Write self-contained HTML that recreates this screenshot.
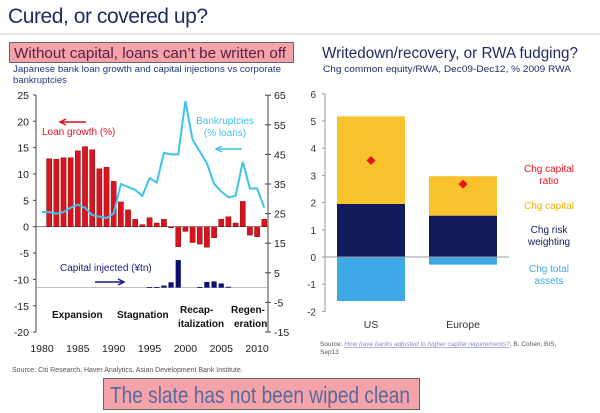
<!DOCTYPE html>
<html><head><meta charset="utf-8"><style>
body{margin:0;background:#fff;font-family:"Liberation Sans",sans-serif;}
#wrap{position:relative;width:600px;height:413px;overflow:hidden;}
</style></head><body>
<div id="wrap">
<svg width="600" height="413" font-family="Liberation Sans, sans-serif">
<text x="8" y="23" font-size="21" fill="#1f2a5e" textLength="200">Cured, or covered up?</text>
<line x1="0" y1="34" x2="600" y2="34" stroke="#ccc"/>
<rect x="9.5" y="42.5" width="284" height="20" fill="#f4a3aa" stroke="#666"/>
<text x="14" y="58" font-size="15" fill="#5a2040" textLength="272" lengthAdjust="spacingAndGlyphs">Without capital, loans can’t be written off</text>
<text x="13" y="72" font-size="9.5" fill="#1f3a7a" textLength="268" lengthAdjust="spacingAndGlyphs">Japanese bank loan growth and capital injections vs corporate</text>
<text x="13" y="83" font-size="9.5" fill="#1f3a7a">bankruptcies</text>
<g id="left"></g>
<g id="right"></g>
<text x="322" y="58" font-size="15.5" fill="#1f2a5e" textLength="256" lengthAdjust="spacingAndGlyphs">Writedown/recovery, or RWA fudging?</text>
<text x="323" y="72" font-size="9" fill="#1f2a5e" textLength="248" lengthAdjust="spacingAndGlyphs">Chg common equity/RWA, Dec09-Dec12, % 2009 RWA</text>
<text x="320" y="346" font-size="6.5" fill="#555">Source: <tspan fill="#8888cc" font-style="italic" text-decoration="underline">How have banks adjusted to higher capital requirements?</tspan>, B. Cohen, BIS,</text>
<text x="320" y="354" font-size="6.5" fill="#555">Sep13</text>
<text x="12" y="372" font-size="7" fill="#555">Source: Citi Research, Haver Analytics, Asian Development Bank Institute.</text>
<rect x="103.5" y="378.5" width="316" height="31" fill="#f4a3aa" stroke="#666"/>
<text x="110" y="403" font-size="23" fill="#5a6a9a" textLength="300" lengthAdjust="spacingAndGlyphs">The slate has not been wiped clean</text>
</svg>
</div>
<script>
const ns="http://www.w3.org/2000/svg";
const loanYears=[1981,1982,1983,1984,1985,1986,1987,1988,1989,1990,1991,1992,1993,1994,1995,1996,1997,1998,1999,2000,2001,2002,2003,2004,2005,2006,2007,2008,2009,2010,2011];
const loanGrowth=[12.9,12.8,13.1,13.1,14.4,15.2,14.6,11.0,11.3,8.6,4.7,3.2,1.4,0.4,1.7,0.7,1.4,-0.2,-3.8,-0.9,-3.0,-3.3,-3.9,-2.1,1.4,1.9,0.7,4.8,-1.6,-1.9,1.4];
const bkYears=[1980,1981,1982,1983,1984,1985,1986,1987,1988,1989,1990,1991,1992,1993,1994,1995,1996,1997,1998,1999,2000,2001,2002,2003,2004,2005,2006,2007,2008,2009,2010,2011];
const bankruptcies=[25.5,25.5,25,25.5,27,28,27,24.5,24,23.5,25,35,34,33,31,37,35.5,45.5,45,45,63,50,46,42,35,32.5,30.5,31,42.5,33.5,33.5,27];
const capYears=[1995,1996,1997,1998,1999,2002,2003,2004,2005,2006];
const capital=[0.2,0.2,0.7,1.8,9.3,0.2,1.9,2.1,1.4,0.3];
const leftTicks=[25,20,15,10,5,0,-5,-10,-15,-20];
const rightTicks=[65,55,45,35,25,15,5,-5,-15];
const xTicks=[1980,1985,1990,1995,2000,2005,2010];
const regions=["US","Europe"];
const chgAssets=[-1.62,-0.28];
const chgRisk=[1.95,1.52];
const chgCapital=[3.22,1.45];
const chgRatio=[3.55,2.68];
const rTicks=[6,5,4,3,2,1,0,-1,-2];

function el(p,t,a,txt){const e=document.createElementNS(ns,t);for(const k in a)e.setAttribute(k,a[k]);if(txt!==undefined)e.textContent=txt;p.appendChild(e);return e;}
const L=document.getElementById('left');
const xs=y=>42+(y-1980)*7.17;
const yl=v=>226.7-v*5.27;
const yr=v=>287.6-v*2.96;
let a=el(L,'line',{x1:36,y1:95,x2:36,y2:332,stroke:'#444'});


a=el(L,'line',{x1:268,y1:95,x2:268,y2:332,stroke:'#444'});


a=el(L,'line',{x1:36,y1:yl(0),x2:268,y2:yl(0),stroke:'#444','stroke-width':0.6});


a=el(L,'line',{x1:36,y1:yr(0),x2:268,y2:yr(0),stroke:'#999','stroke-width':0.6});


leftTicks.forEach(v=>{el(L,'line',{x1:33,x2:36,y1:yl(v),y2:yl(v),stroke:'#444'});const t=el(L,'text',{x:29,y:yl(v)+4,'font-size':10.5,'text-anchor':'end',fill:'#222'},v);

});
rightTicks.forEach(v=>{el(L,'line',{x1:265,x2:271,y1:yr(v),y2:yr(v),stroke:'#444'});const t=el(L,'text',{x:274,y:yr(v)+4,'font-size':10.5,fill:'#222'},v);

});
xTicks.forEach(v=>{const t=el(L,'text',{x:xs(v),y:352,'font-size':10.5,'text-anchor':'middle',fill:'#222'},v);

});
loanYears.forEach((y,i)=>{const v=loanGrowth[i];const r=el(L,'rect',{x:xs(y)-2.6,y:Math.min(yl(v),yl(0)),width:5.2,height:Math.max(0.6,Math.abs(yl(v)-yl(0))),fill:'#d9141f',stroke:'#700',"stroke-width":0.4});

});
capYears.forEach((y,i)=>{const v=capital[i];const r=el(L,'rect',{x:xs(y)-2.6,y:yr(v),width:5.2,height:Math.max(0.8,yr(0)-yr(v)),fill:'#0d0f6e'});

});
const pl=el(L,'polyline',{points:bkYears.map((y,i)=>xs(y)+','+yr(bankruptcies[i])).join(' '),fill:'none',stroke:'#3fc3ea','stroke-width':2});


const ann=[[42,135,'Loan growth (%)','#d9141f','start'],[225,124,'Bankruptcies','#3fc3ea','middle'],[225,136,'(% loans)','#3fc3ea','middle'],[60,271,'Capital injected (¥tn)','#1a1a80','start']];
ann.forEach(a=>{const t=el(L,'text',{x:a[0],y:a[1],'font-size':10,fill:a[3],'text-anchor':a[4]},a[2]);

});
el(L,'path',{d:'M86 122H62M66 119L60 122L66 125',stroke:'#d9141f','stroke-width':1.5,fill:'none'});
el(L,'path',{d:'M242 149H218M222 146L216 149L222 152',stroke:'#3fc3ea','stroke-width':1.5,fill:'none'});
el(L,'path',{d:'M95 282H122M118 279L124 282L118 285',stroke:'#1a1a80','stroke-width':1.5,fill:'none'});
[[52,318,'Expansion'],[117,318,'Stagnation'],[180,313,'Recap-'],[178,327,'italization'],[231,313,'Regen-'],[234,327,'eration']].forEach(a=>{const t=el(L,'text',{x:a[0],y:a[1],'font-size':10,'font-weight':'bold',fill:'#111'},a[2]);

});

const R=document.getElementById('right');
const ry=v=>257-v*27.2;
const bx=[337,429];
a=el(R,'line',{x1:325,y1:94,x2:325,y2:312,stroke:'#999'});


rTicks.forEach(v=>{el(R,'line',{x1:322,x2:325,y1:ry(v),y2:ry(v),stroke:'#999'});const t=el(R,'text',{x:316,y:ry(v)+4,'font-size':10,'text-anchor':'end',fill:'#333'},v);

});
regions.forEach((r,i)=>{
 const x=bx[i],w=68;
 let b=el(R,'rect',{x:x,y:ry(0),width:w,height:ry(chgAssets[i])-ry(0),fill:'#3fa9e8'});
 
 
 b=el(R,'rect',{x:x,y:ry(chgRisk[i]),width:w,height:ry(0)-ry(chgRisk[i]),fill:'#111a5a'});
 
 
 b=el(R,'rect',{x:x,y:ry(chgRisk[i]+chgCapital[i]),width:w,height:ry(chgRisk[i])-ry(chgRisk[i]+chgCapital[i]),fill:'#f7c22c'});
 
 
 const cx=x+w/2,cy=ry(chgRatio[i]);
 b=el(R,'path',{d:`M${cx} ${cy-4.5}L${cx+4.5} ${cy}L${cx} ${cy+4.5}L${cx-4.5} ${cy}Z`,fill:'#e8141c'});
 
 
 const t=el(R,'text',{x:cx,y:328,'font-size':10.5,'text-anchor':'middle',fill:'#333'},r);
 
 
});
a=el(R,'line',{x1:325,y1:ry(0),x2:509,y2:ry(0),stroke:'#999'});


[[172,'Chg capital','#e8141c'],[184,'ratio','#e8141c'],[209,'Chg capital','#f0b400'],[233,'Chg risk','#111a5a'],[245,'weighting','#111a5a'],[272,'Chg total','#3fa9e8'],[284,'assets','#3fa9e8']].forEach(a=>{const t=el(R,'text',{x:549,y:a[0],'font-size':10,'text-anchor':'middle',fill:a[2]},a[1]);

});
</script>
</body></html>
